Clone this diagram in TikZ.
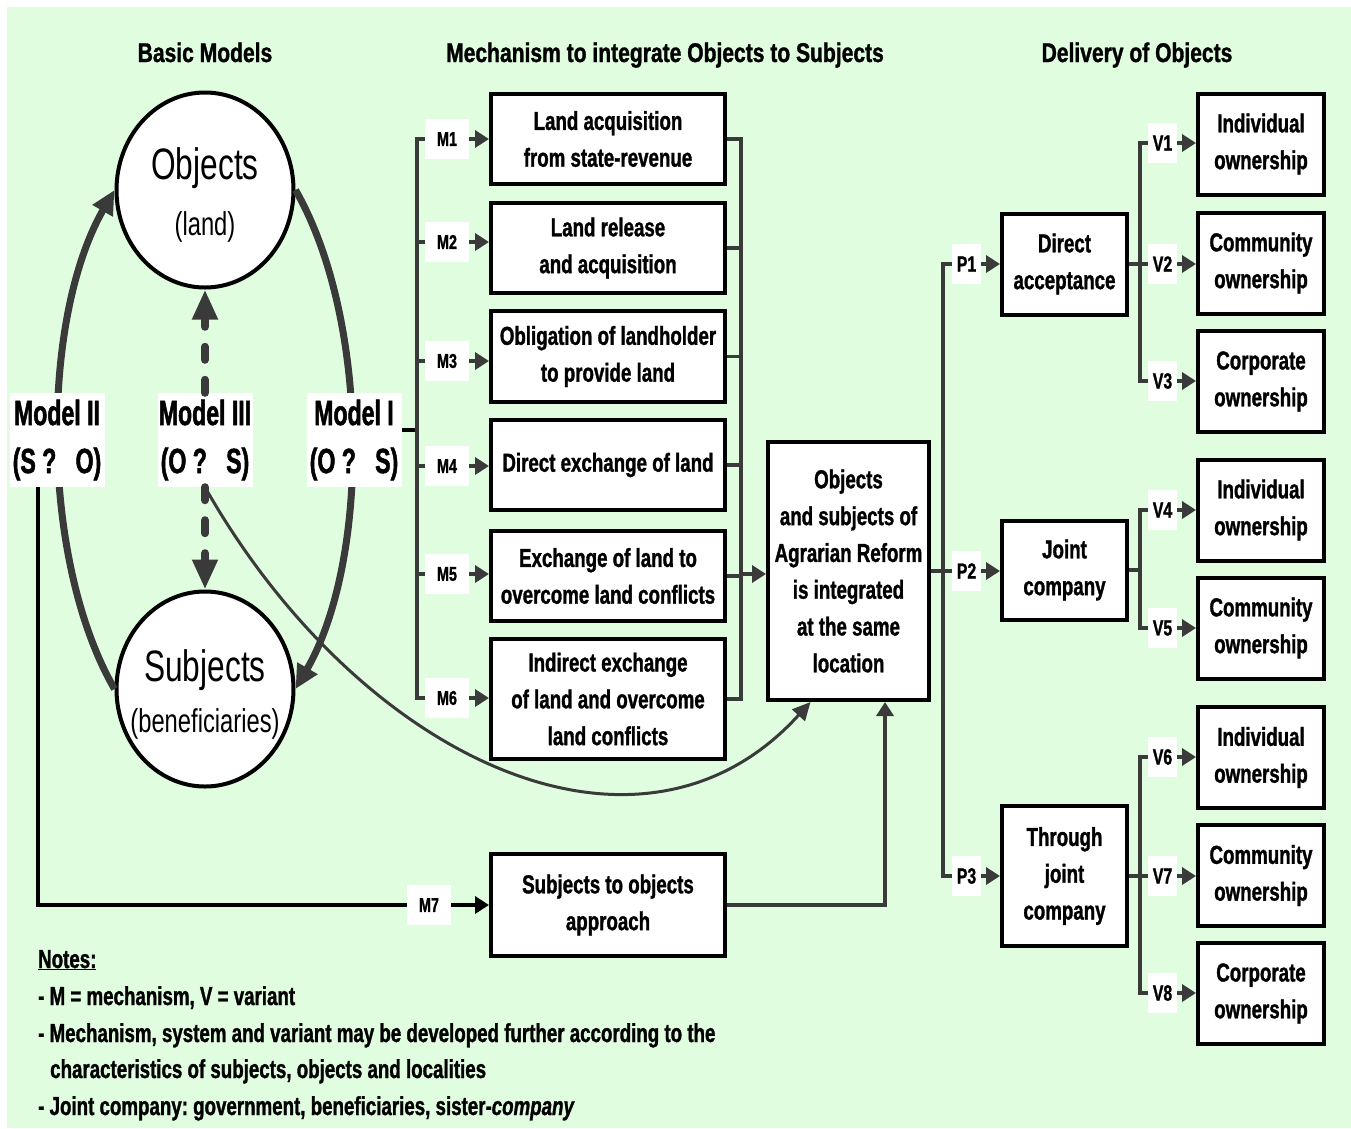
\documentclass[tikz,border=0pt]{standalone}
\usepackage{fontspec}
\setmainfont{Liberation Sans}[FakeStretch=0.72, BoldFeatures={FakeBold=1.2}, BoldItalicFeatures={FakeBold=1.2}]
\newfontfamily\headfamily{Liberation Sans}[FakeStretch=0.78, BoldFeatures={FakeBold=1.2}]
\newfontfamily\modelfamily{Liberation Sans}[FakeStretch=0.66, BoldFeatures={FakeBold=1.4}]
\usetikzlibrary{arrows.meta,shapes.geometric,calc}
\definecolor{bggreen}{RGB}{224,253,224}
\definecolor{linegray}{RGB}{58,58,58}
\frenchspacing
\newcommand\boxtext{\bfseries\fontsize{26}{36.8}\selectfont}
\newcommand\headtext{\headfamily\bfseries\fontsize{27}{32}\selectfont}
\newcommand\modeltext{\modelfamily\bfseries\fontsize{35}{48}\selectfont}
\newcommand\mtagtext{\bfseries\fontsize{20}{24}\selectfont}
\newcommand\vtagtext{\bfseries\fontsize{22}{26}\selectfont}
\newcommand\bigtext{\fontsize{44}{50}\selectfont}
\newcommand\midtext{\fontsize{33}{40}\selectfont}
\begin{document}
\begin{tikzpicture}[x=1pt,y=1pt,
  every node/.style={inner sep=0pt},
  box/.style={draw=black, line width=4pt, fill=white, align=center, font=\boxtext},
  mbox/.style={box, minimum width=234pt, minimum height=90pt},
  pbox/.style={box, minimum width=125pt, minimum height=101pt},
  vbox/.style={box, minimum width=126pt, minimum height=101pt},
  mtag/.style={fill=white, font=\mtagtext, minimum width=44pt, minimum height=40pt},
  vtag/.style={fill=white, font=\vtagtext, minimum width=29pt, minimum height=40pt},
  modeltag/.style={fill=white, align=center, font=\modeltext, minimum width=95pt, minimum height=94pt},
  circ/.style={ellipse, draw=black, line width=4pt, fill=white, minimum width=177pt, minimum height=195pt},
  head/.style={font=\headtext, anchor=base},
  note/.style={font=\boxtext, anchor=base west},
  conn/.style={draw=linegray, line width=3.5pt},
  blackconn/.style={draw=black, line width=3.5pt},
  arr/.style={-{Triangle[length=14pt,width=17pt]}},
  arc/.style={draw=linegray, line width=7pt, -{Triangle[length=24pt,width=22pt]}},
  dasharc/.style={draw=linegray, line width=8pt, line cap=round, dash pattern=on 13pt off 20pt, -{Triangle[length=30pt,width=24pt]}},
  thincurve/.style={draw=linegray, line width=3pt, -{Triangle[length=18pt,width=17pt]}}
]
% page and background panel
\fill[white] (0,0) rectangle (1351,-1128);
\fill[bggreen] (7,-7) rectangle (1351,-1128);
\useasboundingbox (0,0) rectangle (1351,-1128);

% column headings
\node[head] (h1) at (205,-62) {Basic Models};
\node[head] (h2) at (665,-62) {Mechanism to integrate Objects to Subjects};
\node[head] (h3) at (1137,-62) {Delivery of Objects};

% objects and subjects
\node[circ] (obj) at (205,-190) {};
\node[font=\bigtext, anchor=base] (objt) at (205,-179) {Objects};
\node[font=\midtext, anchor=base] (objs) at (205,-235) {(land)};
\node[circ] (subj) at (205,-689) {};
\node[font=\bigtext, anchor=base] (subjt) at (205,-681) {Subjects};
\node[font=\midtext, anchor=base] (subjs) at (205,-732) {(beneficiaries)};

% model arcs
\draw[arc] (subj.west) .. controls (40,-560) and (40,-320) .. (obj.west);
\draw[arc] (obj.east) .. controls (370,-320) and (370,-560) .. (subj.east);

% model labels
\node[modeltag] (mII) at (57,-440) {Model II\\(S ?\ \ \ O)};
\node[modeltag] (mIII) at (205,-440) {Model III\\(O ?\ \ \ S)};
\node[modeltag] (mI) at (354,-440) {Model I\\(O ?\ \ \ S)};

\draw[dasharc] (mIII.north) -- (obj.south);
\draw[dasharc] (mIII.south) -- (subj.north);

% mechanisms
\node[mbox] (m1) at (608,-139) {Land acquisition\\from state-revenue};
\node[mbox] (m2) at (608,-248) {Land release\\and acquisition};
\node[mbox, minimum height=91pt] (m3) at (608,-356.5) {Obligation of landholder\\to provide land};
\node[mbox] (m4) at (608,-465) {Direct exchange of land};
\node[mbox] (m5) at (608,-576) {Exchange of land to\\overcome land conflicts};
\node[mbox, minimum height=120pt] (m6) at (608,-699) {Indirect exchange\\of land and overcome\\land conflicts};
\node[mbox, minimum height=102pt] (m7) at (608,-905) {Subjects to objects\\approach};

\node[mtag] (tm1) at (447,-139) {M1};
\node[mtag] (tm2) at (447,-242) {M2};
\node[mtag] (tm3) at (447,-361) {M3};
\node[mtag] (tm4) at (447,-466) {M4};
\node[mtag] (tm5) at (447,-574) {M5};
\node[mtag] (tm6) at (447,-698) {M6};
\node[mtag] (tm7) at (429,-905) {M7};

% integration box
\node[box, minimum width=161pt, minimum height=258pt] (core) at (848.5,-571) {Objects\\and subjects of\\Agrarian Reform\\is integrated\\at the same\\location};

% delivery paths
\node[pbox] (p1) at (1064.5,-264) {Direct\\acceptance};
\node[pbox, minimum height=99pt] (p2) at (1064.5,-570) {Joint\\company};
\node[pbox, minimum height=140pt] (p3) at (1064.5,-876) {Through\\joint\\company};
\node[vtag] (tp1) at (966.5,-264) {P1};
\node[vtag] (tp2) at (966.5,-571) {P2};
\node[vtag] (tp3) at (966.5,-876) {P3};

% variants
\node[vbox] (v1) at (1261,-144) {Individual\\ownership};
\node[vbox] (v2) at (1261,-263) {Community\\ownership};
\node[vbox] (v3) at (1261,-381.5) {Corporate\\ownership};
\node[vbox] (v4) at (1261,-510) {Individual\\ownership};
\node[vbox] (v5) at (1261,-628) {Community\\ownership};
\node[vbox] (v6) at (1261,-757.5) {Individual\\ownership};
\node[vbox] (v7) at (1261,-875.5) {Community\\ownership};
\node[vbox] (v8) at (1261,-993.5) {Corporate\\ownership};
\node[vtag] (tv1) at (1162.5,-143) {V1};
\node[vtag] (tv2) at (1162.5,-264) {V2};
\node[vtag] (tv3) at (1162.5,-381) {V3};
\node[vtag] (tv4) at (1162.5,-510) {V4};
\node[vtag] (tv5) at (1162.5,-628) {V5};
\node[vtag] (tv6) at (1162.5,-757) {V6};
\node[vtag] (tv7) at (1162.5,-876) {V7};
\node[vtag] (tv8) at (1162.5,-993) {V8};

% Model I into the mechanism bracket
\draw[blackconn, line width=4pt] ([yshift=10pt]mI.east) -- ++(16,0);
% left bracket and arrows into mechanisms
\draw[conn] (tm1.west) -- ++(-8,0) |- (tm6.west);
\foreach \i in {2,...,5} \draw[conn] (tm\i.west) -- ++(-8,0);
\foreach \i in {1,...,6} \draw[conn,arr] (tm\i.east) -- (tm\i.east -| m\i.west);
% right bracket into the integration box
\draw[conn] (m1.east) -- ++(14,0) |- (m6.east);
\foreach \i in {2,...,5} \draw[conn] (m\i.east) -- ++(14,0);
\coordinate (rb) at (739,-574);
\draw[conn,arr] (rb) -- (rb -| core.west);

% Model II route through M7
\draw[blackconn] ([xshift=-19pt]mII.south) |- (tm7.west);
\draw[blackconn,arr] (tm7.east) -- (m7.west);
\draw[conn,arr] (m7.east) -| ([xshift=36.5pt]core.south);

% Model III route
\draw[thincurve] (mIII.south) .. controls (360,-760) and (640,-890) .. ([xshift=-38pt]core.south);

% integration box to delivery paths
\draw[conn] (core.east) -- (core.east -| tp2.west);
\draw[conn] (tp1.west) -- ++(-9,0) |- (tp3.west);
\foreach \i in {1,2,3} \draw[conn,arr] (tp\i.east) -- (tp\i.east -| p\i.west);

% delivery paths to variants
\draw[conn] (tv1.west) -- ++(-8,0) |- (tv3.west);
\draw[conn] (p1.east) -- (p1.east -| tv2.west);
\draw[conn] (tv4.west) -- ++(-8,0) |- (tv5.west);
\draw[conn] (p2.east) -- ++(13,0);
\draw[conn] (tv6.west) -- ++(-8,0) |- (tv8.west);
\draw[conn] (p3.east) -- (p3.east -| tv7.west);
\foreach \i in {1,...,8} \draw[conn,arr] (tv\i.east) -- (tv\i.east -| v\i.west);

% notes
\node[note] (n0) at (38,-968) {\underline{Notes:}};
\node[note] (n1) at (38,-1005) {- M = mechanism, V = variant};
\node[note] (n2) at (38,-1042) {- Mechanism, system and variant may be developed further according to the};
\node[note] (n3) at (50,-1078) {characteristics of subjects, objects and localities};
\node[note] (n4) at (38,-1115) {- Joint company: government, beneficiaries, sister-\textit{company}};
\end{tikzpicture}
\end{document}
